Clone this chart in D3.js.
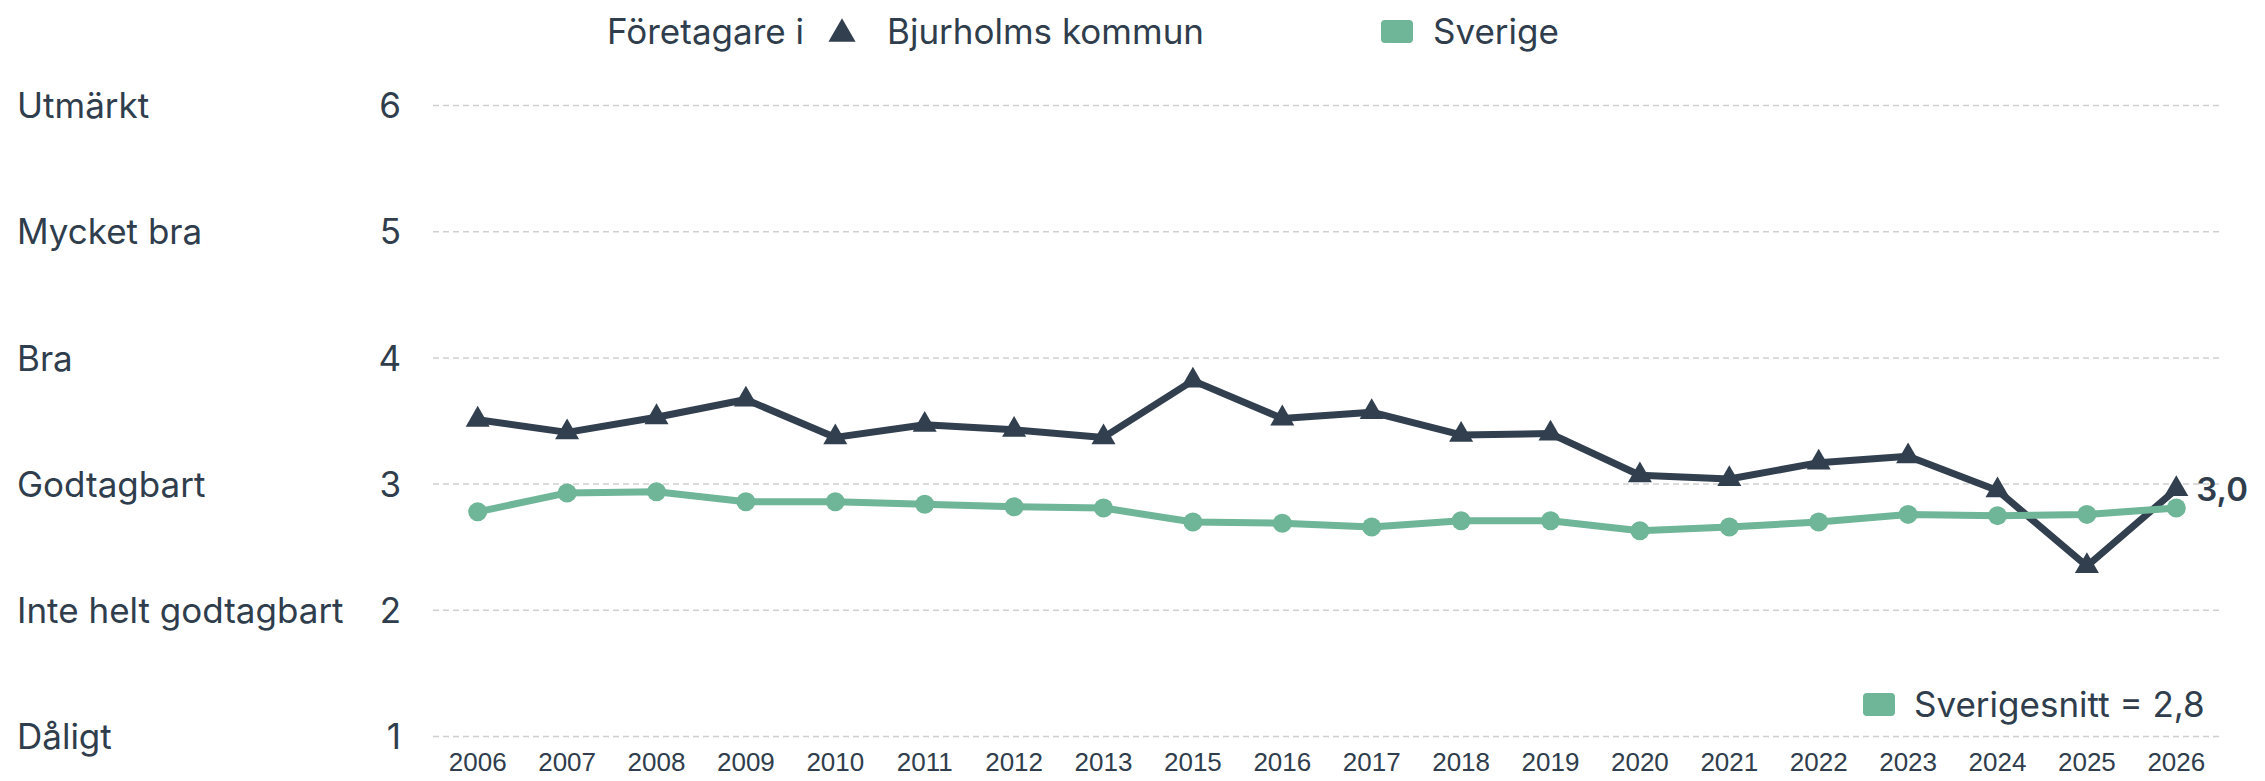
<!DOCTYPE html>
<html>
<head>
<meta charset="utf-8">
<script src="https://cdn.jsdelivr.net/npm/d3@7"></script>
<style>
  body { margin: 0; background: #fff; }
  svg { display: block; font-family: Inter, "Open Sans", sans-serif; }
</style>
</head>
<body>
<div id="chart"></div>
<script>
// data
var years = ["2006","2007","2008","2009","2010","2011","2012","2013","2015","2016",
             "2017","2018","2019","2020","2021","2022","2023","2024","2025","2026"];
var bjurholm = [3.51, 3.41, 3.53, 3.67, 3.37, 3.47, 3.43, 3.37, 3.82, 3.52,
                3.57, 3.39, 3.40, 3.07, 3.04, 3.17, 3.22, 2.95, 2.35, 2.96];
var sverige = [2.78, 2.93, 2.94, 2.86, 2.86, 2.84, 2.82, 2.81, 2.70, 2.69,
               2.66, 2.71, 2.71, 2.63, 2.66, 2.70, 2.76, 2.75, 2.76, 2.81];
var gradeValues = [1, 2, 3, 4, 5, 6];
var gradeLabels = ["Dåligt", "Inte helt godtagbart", "Godtagbart", "Bra", "Mycket bra", "Utmärkt"];
var legendNames = ["Företagare i", "Bjurholms kommun", "Sverige"];
var sverigeSnitt = "2,8";
var lastLabel = "3,0";

var width = 2265, height = 781;
var dark = "#323f4e", green = "#6fb597", textCol = "#2f3d4c";

var svg = d3.select("#chart").append("svg")
    .attr("width", width)
    .attr("height", height);

var x = d3.scalePoint()
    .domain(years)
    .range([433, 2221])
    .padding(0.5);

var y = d3.scaleLinear()
    .domain([1, 6])
    .range([736.5, 105.5]);

// gridlines
svg.append("g")
    .selectAll("line")
    .data(gradeValues)
    .enter().append("line")
    .attr("x1", 433).attr("x2", 2221)
    .attr("y1", function(d) { return y(d); })
    .attr("y2", function(d) { return y(d); })
    .attr("stroke", "#cfcfcf")
    .attr("stroke-width", 1.5)
    .attr("stroke-dasharray", "6,4");

// y labels
var yl = svg.append("g").attr("fill", textCol).style("font-size", "35px");
yl.selectAll(".grade")
    .data(gradeValues)
    .enter().append("text")
    .attr("x", 17)
    .attr("y", function(d) { return y(d); })
    .attr("dy", "0.36em")
    .text(function(d, i) { return gradeLabels[i]; });
yl.selectAll(".num")
    .data(gradeValues)
    .enter().append("text")
    .attr("x", 401)
    .attr("y", function(d) { return y(d); })
    .attr("dy", "0.36em")
    .attr("text-anchor", "end")
    .text(function(d) { return d; });

// x axis labels
svg.append("g")
    .selectAll("text")
    .data(years)
    .enter().append("text")
    .attr("x", function(d) { return x(d); })
    .attr("y", 771)
    .attr("text-anchor", "middle")
    .attr("fill", textCol)
    .style("font-family", "'Liberation Sans', Arial, sans-serif")
    .style("font-size", "26px")
    .text(function(d) { return d; });

var line = d3.line()
    .x(function(d, i) { return x(years[i]); })
    .y(function(d) { return y(d); });

// Bjurholm
svg.append("path")
    .datum(bjurholm)
    .attr("fill", "none")
    .attr("stroke", dark)
    .attr("stroke-width", 7)
    .attr("stroke-linejoin", "round")
    .attr("d", line);

svg.append("g")
    .selectAll("path")
    .data(bjurholm)
    .enter().append("path")
    .attr("transform", function(d, i) { return "translate(" + x(years[i]) + "," + y(d) + ")"; })
    .attr("d", d3.symbol().type(d3.symbolTriangle).size(250))
    .attr("fill", dark);

// Sverige
svg.append("path")
    .datum(sverige)
    .attr("fill", "none")
    .attr("stroke", green)
    .attr("stroke-width", 7)
    .attr("stroke-linejoin", "round")
    .attr("d", line);

svg.append("g")
    .selectAll("circle")
    .data(sverige)
    .enter().append("circle")
    .attr("cx", function(d, i) { return x(years[i]); })
    .attr("cy", function(d) { return y(d); })
    .attr("r", 9.5)
    .attr("fill", green);

// end label
svg.append("text")
    .attr("x", x(years[years.length - 1]) + 20)
    .attr("y", y(bjurholm[bjurholm.length - 1]))
    .attr("dy", "0.36em")
    .attr("fill", textCol)
    .style("font-size", "33px")
    .style("font-weight", "600")
    .text(lastLabel);

// top legend
var lg = svg.append("g").attr("fill", textCol).style("font-size", "35px");
lg.append("text").attr("x", 607).attr("y", 44).text(legendNames[0]);
lg.append("path")
    .attr("transform", "translate(842,34)")
    .attr("d", d3.symbol().type(d3.symbolTriangle).size(320))
    .attr("fill", dark);
lg.append("text").attr("x", 887).attr("y", 44).text(legendNames[1]);
lg.append("rect")
    .attr("x", 1381).attr("y", 20).attr("width", 32).attr("height", 23)
    .attr("rx", 4).attr("fill", green);
lg.append("text").attr("x", 1433).attr("y", 44).text(legendNames[2]);

// bottom legend
svg.append("rect")
    .attr("x", 1863).attr("y", 693).attr("width", 32).attr("height", 23)
    .attr("rx", 4).attr("fill", green);
svg.append("text")
    .attr("x", 1914).attr("y", 717)
    .attr("fill", textCol)
    .style("font-size", "35px")
    .text("Sverigesnitt = " + sverigeSnitt);
</script>
</body>
</html>
